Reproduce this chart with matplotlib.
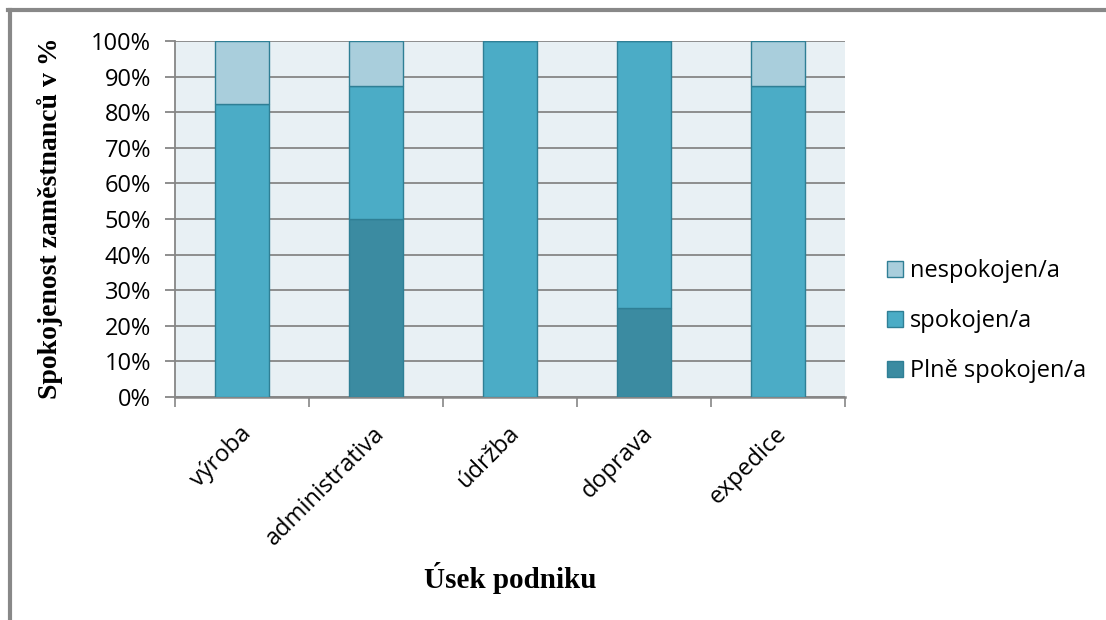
import matplotlib
matplotlib.use("Agg")
import matplotlib.pyplot as plt
import numpy as np
from matplotlib.ticker import FuncFormatter, MultipleLocator
from matplotlib.lines import Line2D
from matplotlib.transforms import ScaledTranslation

categories = ["výroba", "administrativa", "údržba", "doprava", "expedice"]
plne_spokojen = [0.0, 50.0, 0.0, 25.0, 0.0]
spokojen = [82.4, 37.5, 100.0, 75.0, 87.5]
nespokojen = [17.6, 12.5, 0.0, 0.0, 12.5]

series_names = ["Plně spokojen/a", "spokojen/a", "nespokojen/a"]
series_colors = ["#3B8BA1", "#4BACC6", "#A9CEDC"]
edge_color = "#2F7F95"
label_font = "Open Sans"

fig = plt.figure(figsize=(11.06, 6.2), dpi=100)
ax = fig.add_axes([175 / 1106, 1 - 397 / 620, 670 / 1106, 356 / 620])
ax.set_facecolor("#E8F0F4")

x = np.arange(len(categories))
bottom = np.zeros(len(categories))
for vals, name, col in zip([plne_spokojen, spokojen, nespokojen], series_names, series_colors):
    vals = np.array(vals)
    ax.bar(x, vals, width=0.4, bottom=bottom, color=col,
           edgecolor=edge_color, linewidth=1.0, label=name, zorder=3)
    bottom += vals

ax.set_xlim(-0.5, len(categories) - 0.5)
ax.set_ylim(0, 100)
ax.yaxis.set_major_locator(MultipleLocator(10))
ax.yaxis.set_major_formatter(FuncFormatter(lambda v, p: f"{v:.0f}%"))
ax.grid(axis="y", color="#868686", linewidth=1.3, zorder=1)
ax.set_axisbelow(True)

for s in ["top", "right"]:
    ax.spines[s].set_visible(False)
ax.spines["left"].set_color("#868686")
ax.spines["bottom"].set_color("#868686")
ax.spines["left"].set_linewidth(1.3)
ax.spines["bottom"].set_linewidth(1.8)

ax.tick_params(axis="y", length=7.2, color="#868686", width=1.3, labelsize=17, pad=10)
ax.set_xticks(x)
ax.set_xticks(np.arange(len(categories) + 1) - 0.5, minor=True)
ax.tick_params(axis="x", which="major", length=0, pad=18)
ax.tick_params(axis="x", which="minor", length=7, color="#868686", width=1.2)
ax.set_xticklabels(categories, rotation=45, ha="right", rotation_mode="anchor",
                   fontsize=17, family=label_font)
for lab in ax.get_yticklabels():
    lab.set_family(label_font)
shift = ScaledTranslation(-3 / 100, 0, fig.dpi_scale_trans)
for lab in ax.get_xticklabels():
    lab.set_transform(lab.get_transform() + shift)

fig.text(50 / 1106, 1 - 218 / 620, "Spokojenost zaměstnanců v %", rotation=90,
         ha="center", va="center", fontsize=20, fontweight="bold",
         family="Liberation Serif")
fig.text(510 / 1106, 1 - 578 / 620, "Úsek podniku", ha="center", va="center",
         fontsize=21, fontweight="bold", family="Liberation Serif")

leg_handles = [plt.Rectangle((0, 0), 1, 1, facecolor=c, edgecolor=edge_color)
               for c in series_colors[::-1]]
fig.legend(leg_handles, series_names[::-1], loc="center left",
           bbox_to_anchor=(866 / 1106, 1 - 321 / 620), frameon=False,
           prop={"family": label_font, "size": 17}, handlelength=0.65,
           handleheight=0.65, handletextpad=0.3, labelspacing=1.1)

# outer frame of the chart
fig.add_artist(Line2D([8 / 1106, 1], [1 - 9.5 / 620] * 2, transform=fig.transFigure,
                      color="#888888", linewidth=3))
fig.add_artist(Line2D([9.5 / 1106] * 2, [0, 1 - 9.5 / 620], transform=fig.transFigure,
                      color="#888888", linewidth=3))

fig.savefig("out.png", dpi=100)
